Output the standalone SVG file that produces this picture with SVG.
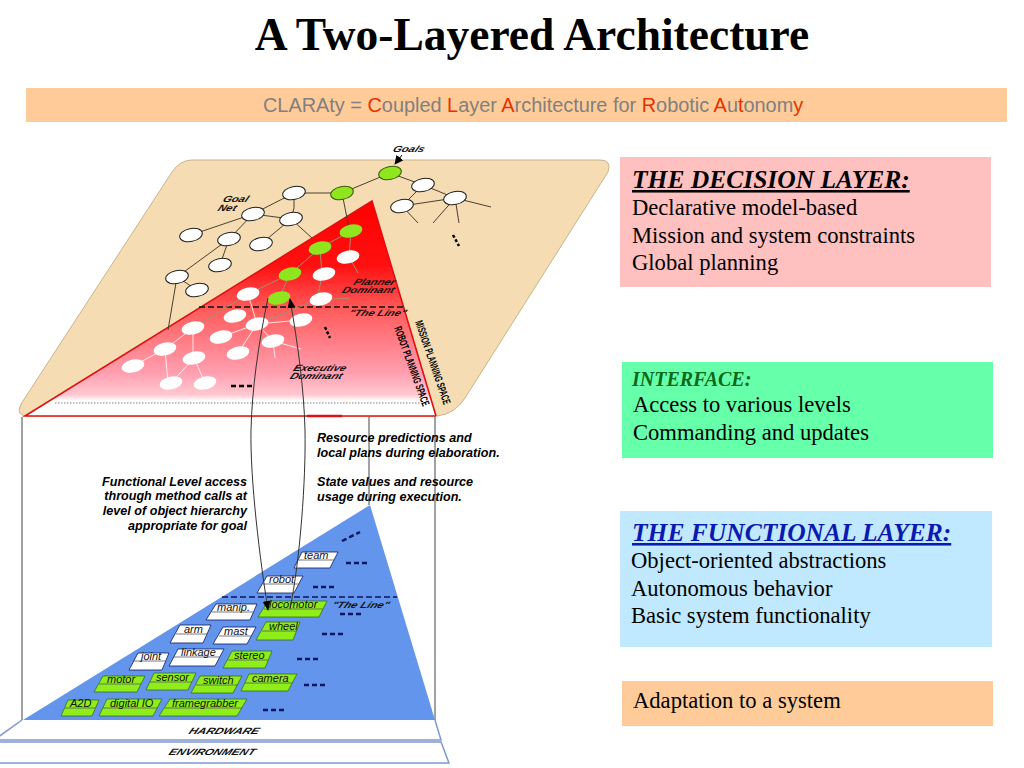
<svg xmlns="http://www.w3.org/2000/svg" width="1024" height="768" viewBox="0 0 1024 768">
<style>
.t{font-family:"Liberation Serif","Times New Roman",serif;fill:#000}
.s{font-family:"Liberation Sans",Arial,sans-serif}
.l{font-size:22.6px}
.h{font-size:25.5px;font-weight:bold;font-style:italic;text-decoration:underline}
.cap{font-family:"Liberation Sans",Arial,sans-serif;font-size:12.6px;font-weight:bold;font-style:italic;fill:#000}
.mini{font-family:"Liberation Sans",Arial,sans-serif;font-size:9px;font-style:italic;font-weight:bold;fill:#111}
.box{font-family:"Liberation Sans",Arial,sans-serif;font-size:11px;font-style:italic;fill:#111}
.w{fill:#fff;stroke:#222;stroke-width:1}
.wn{fill:#fff;stroke:none}
.g{fill:#8fe61e;stroke:#3a5a10;stroke-width:1}
.gn{fill:#8fe61e;stroke:none}
.e1{stroke:#4a4030;stroke-width:1;fill:none}
.e2{stroke:#fff;stroke-width:1;fill:none;opacity:.8}
.e3{stroke:#a09070;stroke-width:1;fill:none}
.bw{fill:#fff;stroke:#0a1a60;stroke-width:.8}
.bg{fill:#8fee1a;stroke:#33701a;stroke-width:.8}
.mid{stroke:#556;stroke-width:.8}
.dots{stroke:#0a1560;stroke-width:2.5;stroke-dasharray:5 3;fill:none}
.dotk{stroke:#000;stroke-width:2.5;stroke-dasharray:5 3;fill:none}
.dotv{stroke:#000;stroke-width:2.5;stroke-dasharray:3 2;fill:none}
</style>
<defs>
<linearGradient id="rg" x1="0" y1="201" x2="0" y2="416" gradientUnits="userSpaceOnUse">
<stop offset="0" stop-color="#ff0000"/><stop offset=".3" stop-color="#ff1010"/><stop offset=".5" stop-color="#ff5a5a"/><stop offset=".8" stop-color="#ff9fb0"/><stop offset=".9" stop-color="#ffc8d0"/><stop offset=".93" stop-color="#fff"/><stop offset="1" stop-color="#fff"/>
</linearGradient>
<marker id="ah" viewBox="0 0 10 10" refX="9" refY="5" markerWidth="9" markerHeight="9" markerUnits="userSpaceOnUse" orient="auto"><path d="M0 0L10 5L0 10Z" fill="#000"/></marker>
<marker id="ah2" viewBox="0 0 10 10" refX="9" refY="5" markerWidth="10" markerHeight="10" markerUnits="userSpaceOnUse" orient="auto"><path d="M0 1L10 5L0 9Z" fill="#000"/></marker>
<ellipse id="en" rx="11.5" ry="6.5" transform="rotate(-12)"/>
</defs>

<text id="title" class="t" x="532" y="50" text-anchor="middle" font-size="45.5" font-weight="bold">A Two-Layered Architecture</text>
<g id="banner">
<rect x="26" y="88" width="981" height="34" fill="#ffcc99"/>
<text class="s" x="263" y="112" font-size="19.9" fill="#808080">CLARAty = <tspan fill="#e83000">C</tspan>oupled <tspan fill="#e83000">L</tspan>ayer <tspan fill="#e83000">A</tspan>rchitecture for <tspan fill="#e83000">R</tspan>obotic <tspan fill="#e83000">A</tspan>u<tspan fill="#e83000">t</tspan>onom<tspan fill="#e83000">y</tspan></text>
</g>

<g id="planning-plane">
<path d="M192 160H600Q612 160 608 172L465 398Q455 414 437 416H28Q15 416 21 404L172 172Q180 160 192 160Z" fill="#f5dcb3" stroke="#c9b48c" stroke-width="1"/>
<path d="M372 201L25 416H436Z" fill="url(#rg)"/>
<path d="M436 416L372 201L25 416H436" fill="none" stroke="#e01010" stroke-width="1.6"/>
<line x1="307" y1="416" x2="342" y2="416" stroke="#e01010" stroke-width="2.4"/>
<line x1="55" y1="403" x2="425" y2="403" stroke="#aaa" stroke-width="1.5" stroke-dasharray="1.5 1.5"/>
<line x1="199" y1="307" x2="406" y2="307" stroke="#111" stroke-width="1.5" stroke-dasharray="6 3"/>
</g>

<g id="vertical-lines" fill="none" stroke="#444" stroke-width="1">
<line x1="22" y1="417" x2="22" y2="720"/>
<line x1="435" y1="417" x2="435" y2="720"/>
<line x1="369" y1="417" x2="369" y2="505"/>
</g>

<g id="connectors">
<g class="e1">
<path d="M294 193L253 214M294 193V208L291 219M253 214L291 219M253 214L191 235M253 214L229 239M291 219L261 244M229 239L220 265M229 239L177 277M177 277L197 290M294 193H342M342 193L390 173M390 173L423 185M423 185L455 198M423 185L402 206M402 206L455 198M455 198L491 207M455 198L433 223M455 198L459 223M402 206L418 223"/>
<path d="M177 277L168 330"/>
<path d="M291 219L312 238"/>
<path d="M342 193L349 228"/>
</g>
<g class="e3">
<path d="M351 231L320 248L290 274L279 298M320 248L322 275L317 300L350 298M351 231L349 257L358 273M290 274L248 294M248 294L193 328M317 300L257 324"/>
</g>
<g class="e2">
<path d="M257 324L221 337M257 324L238 353M257 324L273 341M273 341L301 349M273 341L275 358M257 324L301 320M248 294L257 324M193 328L165 349M193 328V350L194 358M165 349L133 366M165 349L168 383M194 358L171 383M194 358L205 383"/>
</g>
<line x1="402" y1="155" x2="395" y2="164" stroke="#000" stroke-width="1" marker-end="url(#ah)"/>
</g>

<g id="goal-net">
<use href="#en" class="w" x="294" y="193"/>
<use href="#en" class="w" x="253" y="214"/>
<use href="#en" class="w" x="291" y="219"/>
<use href="#en" class="w" x="191" y="235"/>
<use href="#en" class="w" x="229" y="239"/>
<use href="#en" class="w" x="261" y="244"/>
<use href="#en" class="w" x="220" y="265"/>
<use href="#en" class="w" x="177" y="277"/>
<use href="#en" class="w" x="197" y="290"/>
<use href="#en" class="w" x="423" y="185"/>
<use href="#en" class="w" x="455" y="198"/>
<use href="#en" class="w" x="402" y="206"/>
<use href="#en" class="g" x="390" y="173"/>
<use href="#en" class="g" x="342" y="193"/>
</g>
<g id="robot-net">
<use href="#en" class="gn" x="351" y="231"/>
<use href="#en" class="gn" x="320" y="248"/>
<use href="#en" class="gn" x="290" y="274"/>
<use href="#en" class="gn" x="279" y="298"/>
<use href="#en" class="wn" x="348" y="257"/>
<use href="#en" class="wn" x="324" y="274"/>
<use href="#en" class="wn" x="321" y="299"/>
<use href="#en" class="wn" x="248" y="294"/>
<use href="#en" class="wn" x="235" y="316"/>
<use href="#en" class="wn" x="301" y="320"/>
<use href="#en" class="wn" x="193" y="328"/>
<use href="#en" class="wn" x="221" y="337"/>
<use href="#en" class="wn" x="257" y="324"/>
<use href="#en" class="wn" x="273" y="341"/>
<use href="#en" class="wn" x="238" y="353"/>
<use href="#en" class="wn" x="165" y="349"/>
<use href="#en" class="wn" x="194" y="358"/>
<use href="#en" class="wn" x="133" y="366"/>
<use href="#en" class="wn" x="171" y="383"/>
<use href="#en" class="wn" x="205" y="383"/>
</g>
<g id="plane-labels">
<text class="mini" transform="translate(392,152) skewX(-25) scale(1.25,1)">Goals</text>
<text class="mini" transform="translate(222,202) skewX(-25) scale(1.25,1)">Goal</text>
<text class="mini" transform="translate(217,211) skewX(-25) scale(1.25,1)">Net</text>
<text class="mini" text-anchor="end" transform="translate(394,285) skewX(-25) scale(1.25,1)">Planner</text>
<text class="mini" text-anchor="end" transform="translate(393,293) skewX(-25) scale(1.25,1)">Dominant</text>
<text class="mini" text-anchor="end" transform="translate(405,316) skewX(-25) scale(1.25,1)">"The Line"</text>
<text class="mini" text-anchor="end" transform="translate(345,371) skewX(-25) scale(1.25,1)">Executive</text>
<text class="mini" text-anchor="end" transform="translate(341,379) skewX(-25) scale(1.25,1)">Dominant</text>
<text class="s" font-size="11" font-weight="bold" textLength="88" lengthAdjust="spacingAndGlyphs" transform="translate(415,322) rotate(71)">MISSION PLANNING SPACE</text>
<text class="s" font-size="11" font-weight="bold" textLength="84" lengthAdjust="spacingAndGlyphs" transform="translate(394,328) rotate(70)">ROBOT PLANNING SPACE</text>
<line class="dotk" x1="231" y1="386" x2="252" y2="386"/>
<line class="dotv" x1="453" y1="235" x2="459" y2="246"/>
<line class="dotv" x1="325" y1="327" x2="330" y2="338"/>
</g>

<g id="annotations">
<text class="cap" x="317" y="442">Resource predictions and</text>
<text class="cap" x="317" y="457">local plans during elaboration.</text>
<text class="cap" x="317" y="486">State values and resource</text>
<text class="cap" x="317" y="501">usage during execution.</text>
<text class="cap" x="247" y="486" text-anchor="end">Functional Level access</text>
<text class="cap" x="247" y="500" text-anchor="end">through method calls at</text>
<text class="cap" x="247" y="515" text-anchor="end">level of object hierarchy</text>
<text class="cap" x="247" y="530" text-anchor="end">appropriate for goal</text>
</g>

<g id="functional-plane">
<path d="M370 505L23 720H435Z" fill="#6495ed"/>
<path d="M22 720L-6 740H441L435 720" fill="#fff" stroke="#7f97d0" stroke-width="1.5"/>
<path d="M-6 742H441L449 763H-6Z" fill="#fff" stroke="#7f97d0" stroke-width="1.5"/>
<line x1="222" y1="597" x2="397" y2="597" stroke="#0a1560" stroke-width="1.5" stroke-dasharray="6 3"/>
<text class="mini" transform="translate(188,734) skewX(-25)" textLength="70" lengthAdjust="spacingAndGlyphs">HARDWARE</text>
<text class="mini" transform="translate(168,755) skewX(-25)" textLength="86" lengthAdjust="spacingAndGlyphs">ENVIRONMENT</text>
<text class="mini" transform="translate(331,608) skewX(-25) scale(1.25,1)">"The Line"</text>
<line class="dots" x1="342" y1="541" x2="360" y2="532"/>
<line class="dots" x1="346" y1="563" x2="367" y2="563"/>
<line class="dots" x1="313" y1="587" x2="334" y2="587"/>
<line class="dots" x1="340" y1="614" x2="361" y2="614"/>
<line class="dots" x1="322" y1="634" x2="343" y2="634"/>
<line class="dots" x1="297" y1="659" x2="318" y2="659"/>
<line class="dots" x1="304" y1="685" x2="325" y2="685"/>
<line class="dots" x1="263" y1="710" x2="284" y2="710"/>
</g>

<g id="box-a2d"><polygon class="bg" points="68,700 99,700 92,716 61,716"/><line class="mid" x1="65" y1="708" x2="95" y2="708"/><text class="box" x="70" y="707">A2D</text></g>
<g id="box-digital-io"><polygon class="bg" points="107,699 162,699 153,716 99,716"/><line class="mid" x1="103" y1="708" x2="157" y2="708"/><text class="box" x="110" y="707">digital IO</text></g>
<g id="box-framegrabber"><polygon class="bg" points="170,699 247,699 237,716 159,716"/><line class="mid" x1="165" y1="708" x2="242" y2="708"/><text class="box" x="172" y="707">framegrabber</text></g>
<g id="box-motor"><polygon class="bg" points="103,676 145,676 137,692 94,692"/><line class="mid" x1="99" y1="684" x2="141" y2="684"/><text class="box" x="107" y="683">motor</text></g>
<g id="box-sensor"><polygon class="bg" points="154,673 196,673 188,690 146,690"/><line class="mid" x1="150" y1="682" x2="192" y2="682"/><text class="box" x="156" y="681">sensor</text></g>
<g id="box-switch"><polygon class="bg" points="200,676 242,676 233,693 191,693"/><line class="mid" x1="196" y1="685" x2="238" y2="685"/><text class="box" x="203" y="684">switch</text></g>
<g id="box-camera"><polygon class="bg" points="249,674 297,674 288,691 241,691"/><line class="mid" x1="245" y1="683" x2="293" y2="683"/><text class="box" x="252" y="682">camera</text></g>
<g id="box-joint"><polygon class="bw" points="138,653 169,653 162,670 129,670"/><line class="mid" x1="134" y1="661" x2="166" y2="661"/><text class="box" x="141" y="660">joint</text></g>
<g id="box-linkage"><polygon class="bw" points="178,649 224,649 215,666 169,666"/><line class="mid" x1="174" y1="657" x2="220" y2="657"/><text class="box" x="181" y="656">linkage</text></g>
<g id="box-stereo"><polygon class="bg" points="232,651 272,651 265,668 223,668"/><line class="mid" x1="228" y1="660" x2="268" y2="660"/><text class="box" x="234" y="659">stereo</text></g>
<g id="box-arm"><polygon class="bw" points="180,625 211,625 203,643 170,643"/><line class="mid" x1="176" y1="634" x2="207" y2="634"/><text class="box" x="184" y="633">arm</text></g>
<g id="box-mast"><polygon class="bw" points="223,627 256,627 247,644 213,644"/><line class="mid" x1="219" y1="636" x2="252" y2="636"/><text class="box" x="224" y="635">mast</text></g>
<g id="box-wheel"><polygon class="bg" points="266,622 300,622 293,640 256,640"/><line class="mid" x1="262" y1="631" x2="297" y2="631"/><text class="box" x="269" y="630">wheel</text></g>
<g id="box-manip"><polygon class="bw" points="216,604 257,604 250,620 206,620"/><line class="mid" x1="212" y1="612" x2="254" y2="612"/><text class="box" x="217" y="611">manip.</text></g>
<g id="box-locomotor"><polygon class="bg" points="268,601 327,601 319,617 258,617"/><line class="mid" x1="264" y1="609" x2="323" y2="609"/><text class="box" x="269" y="608">locomotor</text></g>
<g id="box-robot"><polygon class="bw" points="267,576 303,576 294,593 257,593"/><line class="mid" x1="263" y1="584" x2="299" y2="584"/><text class="box" x="269" y="583">robot</text></g>
<g id="box-team"><polygon class="bw" points="302,552 338,552 330,568 294,568"/><line class="mid" x1="298" y1="560" x2="334" y2="560"/><text class="box" x="304" y="559">team</text></g>

<g id="method-arcs">
<path d="M268 298C258 345 252 390 251 430C250 480 260 560 268 610" fill="none" stroke="#333" stroke-width="1" marker-end="url(#ah2)"/>
<path d="M290 609C300 560 306 480 305 430C304 390 298 345 290 299" fill="none" stroke="#333" stroke-width="1" marker-end="url(#ah2)"/>
</g>

<g id="decision-layer">
<rect x="620" y="157" width="371" height="130" fill="#ffc0c0"/>
<text class="t h" x="632" y="188">THE DECISION LAYER:</text>
<text class="t l" x="632" y="215">Declarative model-based</text>
<text class="t l" x="632" y="243">Mission and system constraints</text>
<text class="t l" x="632" y="270">Global planning</text>
</g>
<g id="interface">
<rect x="622" y="362" width="371" height="96" fill="#66ffaa"/>
<text class="t" x="632" y="386" font-size="20" font-weight="bold" font-style="italic" style="fill:#0a6a1a">INTERFACE:</text>
<text class="t l" x="633" y="412">Access to various levels</text>
<text class="t l" x="633" y="440">Commanding and updates</text>
</g>
<g id="functional-layer">
<rect x="620" y="511" width="372" height="136" fill="#c0e8ff"/>
<text class="t h" x="632" y="541" style="fill:#0a1ab0">THE FUNCTIONAL LAYER:</text>
<text class="t l" x="631" y="568">Object-oriented abstractions</text>
<text class="t l" x="631" y="596">Autonomous behavior</text>
<text class="t l" x="631" y="623">Basic system functionality</text>
</g>
<g id="adaptation">
<rect x="622" y="681" width="371" height="45" fill="#ffcc99"/>
<text class="t l" x="633" y="708">Adaptation to a system</text>
</g>
</svg>
